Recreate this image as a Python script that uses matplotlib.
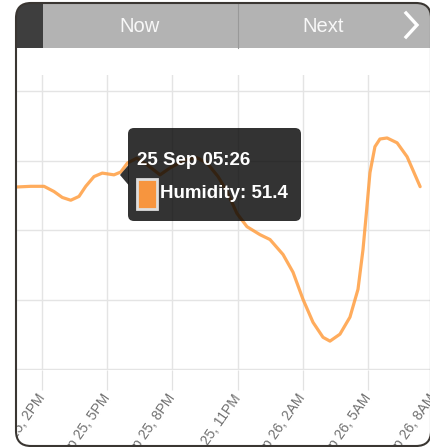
import matplotlib
matplotlib.use('Agg')
import matplotlib.pyplot as plt
from matplotlib import font_manager
from matplotlib.patches import FancyBboxPatch, Rectangle, Polygon, PathPatch
from matplotlib.path import Path
from matplotlib.lines import Line2D
from matplotlib.transforms import Affine2D
import numpy as np

W, H = 431, 447

# hours since Sep 25 00:00, humidity
hours = [12.80, 13.48, 14.09, 14.55, 14.93, 15.32, 15.70, 16.01, 16.39, 16.77,
         17.31, 17.62, 17.93, 18.36, 18.83, 19.43, 19.89, 20.58, 21.13, 21.59,
         22.10, 22.51, 22.97, 23.43, 24.03, 24.49, 25.09, 25.55, 26.01, 26.47,
         26.93, 27.25, 27.71, 28.17, 28.54, 28.77, 28.94, 29.09, 29.32, 29.55,
         29.88, 30.34, 30.80, 31.40]
humidity = [51.24, 51.26, 51.26, 51.11, 50.94, 50.86, 50.97, 51.26, 51.54, 51.64,
            51.59, 51.67, 51.93, 52.07, 51.88, 51.59, 51.79, 52.02, 52.08, 51.93,
            51.54, 51.11, 50.48, 50.10, 49.87, 49.73, 49.30, 48.79, 48.01, 47.35,
            46.92, 46.81, 47.01, 47.50, 48.30, 49.44, 50.59, 51.65, 52.40, 52.62,
            52.65, 52.51, 52.11, 51.25]

tick_hours = [14, 17, 20, 23, 26, 29, 32]
tick_labels = ['Sep 25, 2PM', 'Sep 25, 5PM', 'Sep 25, 8PM', 'Sep 25, 11PM',
               'Sep 26, 2AM', 'Sep 26, 5AM', 'Sep 26, 8AM']
grid_values = [46, 48, 50, 52, 54]

tooltip_title = '25 Sep 05:26'
tooltip_label = 'Humidity: 51.4'
buttons = ['Now', 'Next']

line_color = (1.0, 0.62, 0.25)

names = {f.name for f in font_manager.fontManager.ttflist}
if 'Liberation Sans Narrow' in names:
    tip_font, tip_size = 'Liberation Sans Narrow', 16.5
else:
    tip_font, tip_size = 'Liberation Sans', 13.5

fig = plt.figure(figsize=(W / 100, H / 100), dpi=100)
# pixel coords measured from the top-left corner
px = Affine2D().scale(1 / W, -1 / H).translate(0, 1) + fig.transFigure

ax = fig.add_axes([16 / W, 1 - 370 / H, (436 - 16) / W, (370 - 75) / H])
ax.set_facecolor('none')
ax.plot(hours, humidity, color=line_color, alpha=0.85, lw=2.3,
        solid_joinstyle='round', solid_capstyle='round')
ax.set_xlim(12.80, 32.13)
ax.set_ylim(45.98, 54.46)
ax.set_xticks(tick_hours, tick_labels, rotation=55, ha='right', va='center',
              rotation_mode='anchor', fontsize=10, color='#707070',
              family='Liberation Sans')
ax.set_yticks(grid_values)
ax.tick_params(axis='y', length=0, labelleft=False)
ax.tick_params(axis='x', length=14.4, width=0.9, color='#e2e2e2', pad=4)
ax.grid(True, color='#e4e4e4', lw=1)
ax.set_axisbelow(True)
for s in ax.spines.values():
    s.set_visible(False)


def rounded_pts(x0, y0, x1, y1, r, n=16):
    pts = []
    corners = [(x1 - r, y0 + r, -90, 0), (x1 - r, y1 - r, 0, 90),
               (x0 + r, y1 - r, 90, 180), (x0 + r, y0 + r, 180, 270)]
    for cx, cy, a0, a1 in corners:
        for a in np.linspace(np.radians(a0), np.radians(a1), n):
            pts.append((cx + r * np.cos(a), cy + r * np.sin(a)))
    return np.array(pts)


def area(p):
    x, y = p[:, 0], p[:, 1]
    return 0.5 * np.sum(x * np.roll(y, -1) - np.roll(x, -1) * y)


inner = rounded_pts(16, 3, 431, 446, 15)
outer = np.array([(-20, -20), (W + 20, -20), (W + 20, H + 20), (-20, H + 20)], float)
if np.sign(area(inner)) == np.sign(area(outer)):
    inner = inner[::-1]
mask_path = Path.make_compound_path(Path(outer, closed=False), Path(inner, closed=False))
fig.add_artist(PathPatch(mask_path, transform=px, fc='white', ec='none', zorder=9))

frame = FancyBboxPatch((16, 3), 415, 443, boxstyle='round,pad=0,rounding_size=15',
                       transform=px, fill=False, ec='#3a3632', lw=1.5, zorder=12)
fig.add_artist(frame)

# top button bar
bar = Rectangle((16, 3), 415, 45, transform=px, fc='#b3b3b3', ec='none', zorder=11)
bar.set_clip_path(frame)
fig.add_artist(bar)
dark = Rectangle((16, 3), 27, 45, transform=px, fc='#3e3e3e', ec='none', zorder=11)
dark.set_clip_path(frame)
fig.add_artist(dark)
fig.add_artist(Line2D([238, 238], [4, 48], transform=px, color='#999999', lw=0.8, zorder=11))
fig.add_artist(Line2D([406, 417, 406], [13, 25, 37], transform=px, color='white',
                      lw=2.4, solid_joinstyle='miter', zorder=13))
for label, xc in zip(buttons, [140, 323]):
    fig.text(xc / W, 1 - 26 / H, label, ha='center', va='center', fontsize=14.5,
             color='#f8f8f8', family='Liberation Sans', zorder=13)

# tooltip
tip_bg = (0, 0, 0, 0.8)
fig.add_artist(FancyBboxPatch((128, 128), 173, 93, boxstyle='round,pad=0,rounding_size=6',
                              transform=px, fc=tip_bg, ec='none', zorder=5))
fig.add_artist(Polygon([(128.5, 165), (120, 175), (128.5, 185)], closed=True,
                       transform=px, fc=tip_bg, ec='none', zorder=5))
fig.text(137 / W, 1 - 160 / H, tooltip_title, ha='left', va='center', fontsize=tip_size,
         fontweight='bold', color='white', family=tip_font, zorder=6)
fig.add_artist(Rectangle((137.5, 179), 19.5, 30, transform=px, fc='#f7953e',
                         ec='#dedede', lw=2, zorder=6))
fig.text(160 / W, 1 - 194 / H, tooltip_label, ha='left', va='center', fontsize=tip_size,
         fontweight='bold', color='white', family=tip_font, zorder=6)

fig.savefig('out.png', dpi=100, facecolor='white')
